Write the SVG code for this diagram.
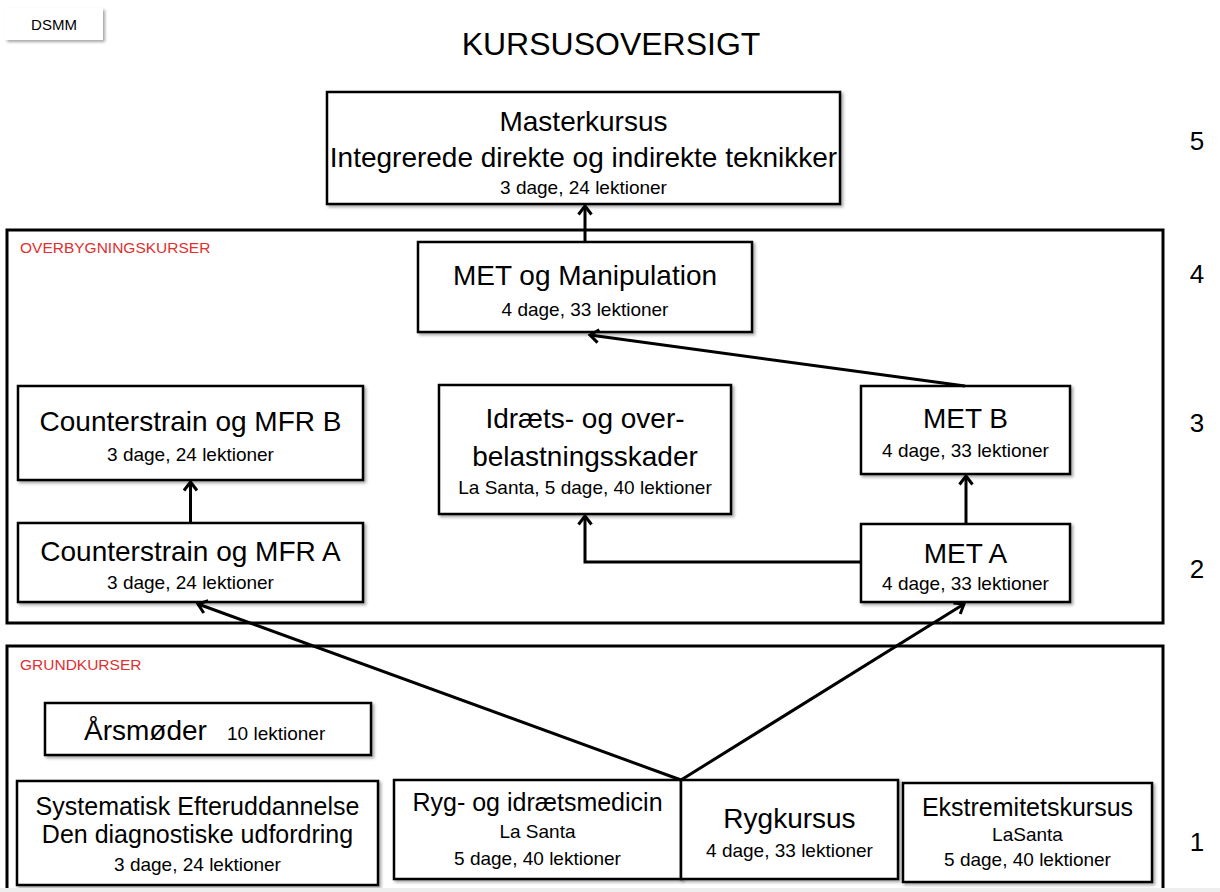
<svg xmlns="http://www.w3.org/2000/svg" width="1220" height="892" viewBox="0 0 1220 892">
<defs>
<style>
text{font-family:"Liberation Sans",Arial,sans-serif;fill:#000}
.box{fill:#fff;stroke:#000;stroke-width:2.5}
.cont{fill:none;stroke:#000;stroke-width:3}
.big{font-size:28px;text-anchor:middle}
.mid{font-size:25px;text-anchor:middle}
.sub{font-size:19px;text-anchor:middle}
.red{font-size:15.5px;fill:#e03030}
.num{font-size:26px;text-anchor:middle}
.conn{fill:none;stroke:#000;stroke-width:3}
</style>
<filter id="sh" x="-5%" y="-5%" width="110%" height="120%">
<feDropShadow dx="2" dy="2" stdDeviation="1.5" flood-color="#000" flood-opacity="0.35"/>
</filter>
<marker id="arr" markerUnits="userSpaceOnUse" markerWidth="16" markerHeight="16" viewBox="0 0 16 16" refX="13" refY="8" orient="auto">
<path d="M4.5,1.5 L13,8 L4.5,14.5" fill="none" stroke="#000" stroke-width="3"/>
</marker>
</defs>
<rect width="1220" height="892" fill="#fff"/>

<g id="dsmm">
<rect x="5" y="8" width="98" height="32" fill="#fff" filter="url(#sh)"/>
<text x="54" y="30" font-size="15" text-anchor="middle">DSMM</text>
</g>
<text id="title" x="611" y="55" font-size="32" text-anchor="middle">KURSUSOVERSIGT</text>

<g id="levels">
<text class="num" x="1197" y="150">5</text>
<text class="num" x="1197" y="283">4</text>
<text class="num" x="1197" y="432">3</text>
<text class="num" x="1197" y="578">2</text>
<text class="num" x="1197" y="851">1</text>
</g>

<g id="overbygning">
<rect class="cont" x="7" y="230" width="1156" height="393"/>
<text class="red" x="20" y="253">OVERBYGNINGSKURSER</text>
</g>
<g id="grundkurser">
<rect class="cont" x="7" y="646" width="1156" height="260"/>
<text class="red" x="20" y="670">GRUNDKURSER</text>
</g>

<g id="masterkursus">
<rect class="box" x="327" y="92" width="513" height="112" stroke-width="3" filter="url(#sh)"/>
<text class="big" x="583.5" y="131">Masterkursus</text>
<text class="big" x="583.5" y="167" font-size="27">Integrerede direkte og indirekte teknikker</text>
<text class="sub" x="583.5" y="194">3 dage, 24 lektioner</text>
</g>

<g id="met-manipulation">
<rect class="box" x="418" y="242" width="334" height="90" filter="url(#sh)"/>
<text class="big" x="585" y="285">MET og Manipulation</text>
<text class="sub" x="585" y="316">4 dage, 33 lektioner</text>
</g>

<g id="counterstrain-b">
<rect class="box" x="18" y="386" width="345" height="94" filter="url(#sh)"/>
<text class="big" x="190.5" y="431">Counterstrain og MFR B</text>
<text class="sub" x="190.5" y="461">3 dage, 24 lektioner</text>
</g>

<g id="counterstrain-a">
<rect class="box" x="18" y="523" width="345" height="79" filter="url(#sh)"/>
<text class="big" x="190.5" y="561">Counterstrain og MFR A</text>
<text class="sub" x="190.5" y="589">3 dage, 24 lektioner</text>
</g>

<g id="idraets">
<rect class="box" x="439" y="385" width="292" height="129" filter="url(#sh)"/>
<text class="big" x="585" y="428">Idræts- og over-</text>
<text class="big" x="585" y="466">belastningsskader</text>
<text class="sub" x="585" y="494">La Santa, 5 dage, 40 lektioner</text>
</g>

<g id="met-b">
<rect class="box" x="861" y="386" width="209" height="88" filter="url(#sh)"/>
<text class="big" x="965.5" y="428">MET B</text>
<text class="sub" x="965.5" y="457">4 dage, 33 lektioner</text>
</g>

<g id="met-a">
<rect class="box" x="861" y="524" width="209" height="78" filter="url(#sh)"/>
<text class="big" x="965.5" y="563">MET A</text>
<text class="sub" x="965.5" y="590">4 dage, 33 lektioner</text>
</g>

<g id="aarsmoeder">
<rect class="box" x="45" y="703" width="326" height="52" filter="url(#sh)"/>
<text x="84" y="740" font-size="28">Årsmøder</text>
<text x="227" y="740" font-size="19">10 lektioner</text>
</g>

<g id="systematisk">
<rect class="box" x="17" y="781" width="361" height="104" filter="url(#sh)"/>
<text class="mid" x="197.5" y="815">Systematisk Efteruddannelse</text>
<text class="mid" x="197.5" y="843" font-size="23">Den diagnostiske udfordring</text>
<text class="sub" x="197.5" y="871">3 dage, 24 lektioner</text>
</g>

<g id="ryg-idraetsmedicin">
<rect class="box" x="394" y="780" width="287" height="99" filter="url(#sh)"/>
<text class="mid" x="537.5" y="811">Ryg- og idrætsmedicin</text>
<text class="sub" x="537.5" y="838">La Santa</text>
<text class="sub" x="537.5" y="865">5 dage, 40 lektioner</text>
</g>

<g id="rygkursus">
<rect class="box" x="681" y="780" width="217" height="99" filter="url(#sh)"/>
<text class="big" x="789.5" y="828" font-size="27">Rygkursus</text>
<text class="sub" x="789.5" y="857">4 dage, 33 lektioner</text>
</g>

<g id="ekstremitetskursus">
<rect class="box" x="903" y="783" width="249" height="99" filter="url(#sh)"/>
<text class="mid" x="1027.5" y="816" font-size="26">Ekstremitetskursus</text>
<text class="sub" x="1027.5" y="841">LaSanta</text>
<text class="sub" x="1027.5" y="866">5 dage, 40 lektioner</text>
</g>

<rect x="0" y="888" width="1220" height="4" fill="#eeeeee"/>

<g id="connectors">
<path class="conn" d="M585,242 L585,206" marker-end="url(#arr)"/>
<path class="conn" d="M965,386 L590,335" marker-end="url(#arr)"/>
<path class="conn" d="M190.5,523 L190.5,482" marker-end="url(#arr)"/>
<path class="conn" d="M966,524 L966,476" marker-end="url(#arr)"/>
<path class="conn" d="M861,562 L585,562 L585,516" marker-end="url(#arr)"/>
<path class="conn" d="M681,780 L198,604" marker-end="url(#arr)"/>
<path class="conn" d="M681,780 L964,604" marker-end="url(#arr)"/>
</g>
</svg>
